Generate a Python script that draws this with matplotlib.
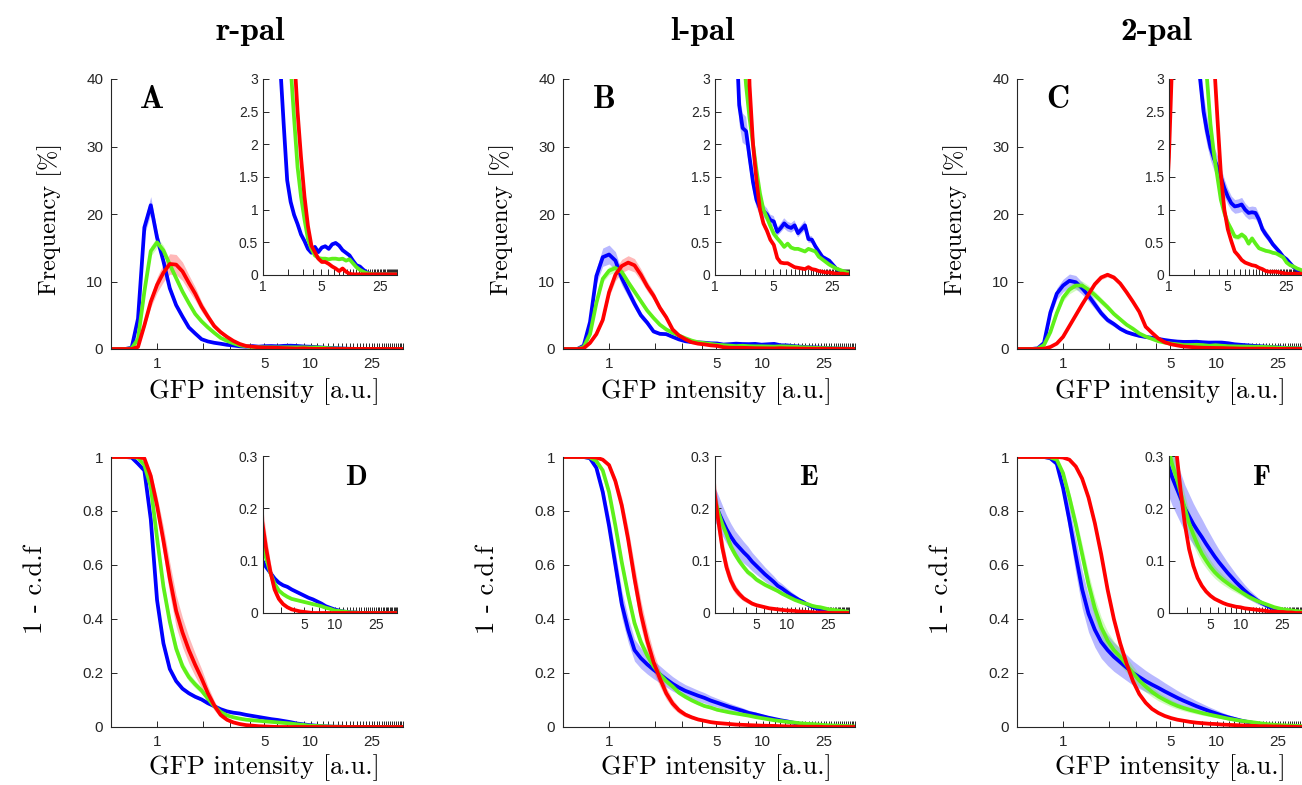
import numpy as np
import matplotlib
matplotlib.use('Agg')
import matplotlib.pyplot as plt

# ---------------- data ----------------
# bin centres (GFP intensity, a.u.), log spaced
X = [0.512, 0.564, 0.620, 0.682, 0.750, 0.825, 0.908, 0.998, 1.098, 1.208,
     1.329, 1.462, 1.608, 1.769, 1.946, 2.140, 2.354, 2.590, 2.849, 3.134,
     3.447, 3.792, 4.171, 4.588, 5.047, 5.552, 6.107, 6.718, 7.390, 8.129,
     8.942, 9.836, 10.82, 11.90, 13.09, 14.40, 15.84, 17.42, 19.17, 21.08,
     23.19, 25.51, 28.06, 30.87, 33.96, 37.35, 41.09]

COLUMNS = ["r-pal", "l-pal", "2-pal"]
LETTERS_TOP = ["A", "B", "C"]
LETTERS_BOT = ["D", "E", "F"]

# Frequency [%]  (blue, green, red)
FREQ_A_BLUE = [0, 0, 0, 0.2, 4.5, 18.0, 21.3, 16.5, 13.0, 9.0, 6.5, 4.8, 3.2, 2.3, 1.45,
               1.12, 0.92, 0.78, 0.62, 0.52, 0.40, 0.34, 0.43, 0.35, 0.42, 0.44, 0.40,
               0.47, 0.49, 0.45, 0.38, 0.34, 0.30, 0.22, 0.15, 0.13, 0.08, 0.04, 0.02,
               0.01, 0.01, 0.01, 0.01, 0.01, 0.01, 0.01, 0.01]
FREQ_A_GREEN = [0, 0, 0, 0.1, 1.5, 8.5, 14.5, 15.8, 14.6, 12.5, 10.5, 8.5, 6.8, 5.2, 4.1,
                3.2, 2.4, 1.65, 1.2, 0.85, 0.55, 0.40, 0.30, 0.26, 0.25, 0.25, 0.24,
                0.25, 0.25, 0.24, 0.25, 0.22, 0.24, 0.18, 0.12, 0.08, 0.05, 0.03, 0.02,
                0.01, 0.01, 0.01, 0.01, 0.01, 0.01, 0.01, 0.01]
FREQ_A_RED = [0, 0, 0, 0, 0.3, 3.5, 7.0, 9.5, 11.3, 12.6, 12.5, 11.5, 9.8, 8.2, 6.3,
              4.8, 3.4, 2.5, 1.8, 1.2, 0.75, 0.45, 0.35, 0.25, 0.20, 0.20, 0.17,
              0.13, 0.10, 0.06, 0.10, 0.05, 0.02, 0.01, 0.01, 0.01, 0.01, 0.01, 0.01,
              0.01, 0.01, 0.01, 0.01, 0.01, 0.01, 0.01, 0.01]

FREQ_B_BLUE = [0, 0, 0, 0.5, 4.0, 10.8, 13.6, 14.0, 13.1, 10.5, 8.6, 6.7, 5.0, 3.9, 2.6,
               2.25, 2.2, 1.8, 1.42, 1.15, 1.02, 0.98, 0.93, 0.84, 0.82, 0.66, 0.72,
               0.79, 0.74, 0.72, 0.76, 0.64, 0.70, 0.76, 0.55, 0.54, 0.44, 0.36, 0.28,
               0.25, 0.22, 0.16, 0.10, 0.07, 0.05, 0.03, 0.02]
FREQ_B_GREEN = [0, 0, 0, 0.3, 2.2, 6.8, 10.4, 11.6, 12.0, 11.4, 9.9, 8.5, 7.1, 5.7, 4.6,
                3.6, 2.9, 2.4, 2.0, 1.6, 1.25, 1.0, 0.88, 0.75, 0.63, 0.56, 0.50,
                0.43, 0.48, 0.42, 0.40, 0.40, 0.38, 0.36, 0.40, 0.38, 0.36, 0.28, 0.24,
                0.20, 0.16, 0.13, 0.10, 0.08, 0.06, 0.04, 0.03]
FREQ_B_RED = [0, 0, 0, 0.1, 0.9, 2.2, 4.3, 8.4, 11.0, 12.3, 12.8, 12.4, 11.0, 9.3, 7.9,
              6.1, 4.7, 2.9, 2.0, 1.45, 1.0, 0.79, 0.68, 0.54, 0.46, 0.26, 0.19,
              0.18, 0.18, 0.15, 0.12, 0.11, 0.10, 0.09, 0.12, 0.09, 0.08, 0.06, 0.05,
              0.04, 0.04, 0.03, 0.02, 0.02, 0.02, 0.01, 0.01]

FREQ_C_BLUE = [0, 0, 0, 0.1, 0.9, 5.4, 8.2, 9.4, 10.1, 9.9, 9.0, 7.9, 6.6, 5.3, 4.3,
               3.7, 3.0, 2.5, 2.2, 1.95, 1.78, 1.66, 1.50, 1.33, 1.20, 1.10, 1.05,
               1.06, 1.08, 1.00, 0.95, 0.96, 0.95, 0.85, 0.70, 0.62, 0.55, 0.47, 0.41,
               0.35, 0.28, 0.24, 0.18, 0.12, 0.08, 0.05, 0.04]
FREQ_C_GREEN = [0, 0, 0, 0.05, 0.6, 2.5, 5.3, 7.6, 8.8, 9.4, 9.4, 8.8, 8.0, 7.1, 6.2,
                5.2, 4.4, 3.6, 3.0, 2.3, 1.85, 1.5, 1.15, 0.95, 0.80, 0.70, 0.59,
                0.58, 0.62, 0.58, 0.48, 0.56, 0.48, 0.41, 0.39, 0.37, 0.36, 0.34, 0.33,
                0.30, 0.27, 0.19, 0.15, 0.13, 0.10, 0.08, 0.06]
FREQ_C_RED = [0, 0, 0, 0, 0.05, 0.3, 0.8, 1.8, 3.4, 5.0, 6.6, 8.1, 9.6, 10.6, 11.0,
              10.6, 9.7, 8.4, 7.0, 5.5, 3.3, 2.4, 1.55, 1.0, 0.70, 0.52, 0.36,
              0.30, 0.23, 0.19, 0.17, 0.15, 0.14, 0.11, 0.09, 0.06, 0.05, 0.05, 0.05,
              0.04, 0.03, 0.02, 0.02, 0.02, 0.02, 0.02, 0.02]

# 1 - c.d.f.
CDF_D_BLUE = [1, 1, 1, 0.998, 0.975, 0.95, 0.77, 0.47, 0.31, 0.215, 0.17, 0.142, 0.125,
              0.112, 0.102, 0.088, 0.077, 0.066, 0.058, 0.053, 0.050, 0.045, 0.041,
              0.037, 0.033, 0.029, 0.026, 0.022, 0.018, 0.013, 0.010, 0.007, 0.005,
              0.003, 0.002, 0.001, 0.001, 0, 0, 0, 0, 0, 0, 0, 0, 0, 0]
CDF_D_GREEN = [1, 1, 1, 1, 0.997, 0.97, 0.89, 0.70, 0.52, 0.39, 0.29, 0.225, 0.185,
               0.158, 0.135, 0.105, 0.077, 0.056, 0.043, 0.036, 0.031, 0.027, 0.025,
               0.023, 0.021, 0.019, 0.017, 0.015, 0.013, 0.010, 0.008, 0.005, 0.004,
               0.003, 0.002, 0.001, 0.001, 0, 0, 0, 0, 0, 0, 0, 0, 0, 0]
CDF_D_RED = [1, 1, 1, 1, 1, 0.995, 0.93, 0.82, 0.69, 0.55, 0.43, 0.35, 0.285, 0.23,
             0.18, 0.125, 0.08, 0.045, 0.027, 0.017, 0.011, 0.007, 0.005, 0.003, 0.002,
             0.001, 0, 0, 0, 0, 0, 0, 0, 0, 0, 0, 0, 0, 0, 0, 0, 0, 0, 0, 0, 0, 0]

CDF_E_BLUE = [1, 1, 1, 1, 0.995, 0.96, 0.87, 0.745, 0.60, 0.455, 0.36, 0.285, 0.255,
              0.232, 0.212, 0.195, 0.177, 0.160, 0.146, 0.134, 0.125, 0.116, 0.108,
              0.098, 0.090, 0.082, 0.074, 0.067, 0.060, 0.052, 0.047, 0.041, 0.035,
              0.030, 0.025, 0.021, 0.016, 0.012, 0.009, 0.006, 0.004, 0.003, 0.002,
              0.001, 0, 0, 0]
CDF_E_GREEN = [1, 1, 1, 1, 0.998, 0.985, 0.95, 0.87, 0.745, 0.61, 0.49, 0.385, 0.315,
               0.265, 0.225, 0.195, 0.170, 0.150, 0.127, 0.112, 0.099, 0.088, 0.078,
               0.072, 0.064, 0.059, 0.054, 0.050, 0.046, 0.042, 0.037, 0.033, 0.029,
               0.025, 0.022, 0.019, 0.017, 0.014, 0.012, 0.011, 0.009, 0.007, 0.006,
               0.005, 0.004, 0.003, 0.002]
CDF_E_RED = [1, 1, 1, 1, 1, 0.998, 0.99, 0.97, 0.91, 0.82, 0.695, 0.55, 0.42, 0.32,
             0.24, 0.18, 0.125, 0.087, 0.062, 0.046, 0.036, 0.028, 0.023, 0.018, 0.015,
             0.013, 0.011, 0.009, 0.008, 0.007, 0.006, 0.005, 0.0045, 0.004, 0.003,
             0.0025, 0.002, 0.0015, 0.001, 0.001, 0.001, 0, 0, 0, 0, 0, 0]

CDF_F_BLUE = [1, 1, 1, 1, 1, 0.995, 0.975, 0.885, 0.765, 0.635, 0.51, 0.42, 0.36, 0.315,
              0.285, 0.26, 0.24, 0.22, 0.20, 0.185, 0.17, 0.157, 0.145, 0.132, 0.120,
              0.108, 0.097, 0.087, 0.077, 0.068, 0.059, 0.051, 0.043, 0.036, 0.030,
              0.024, 0.019, 0.015, 0.011, 0.008, 0.005, 0.003, 0.002, 0.001, 0, 0, 0]
CDF_F_GREEN = [1, 1, 1, 1, 1, 0.998, 0.99, 0.94, 0.85, 0.75, 0.64, 0.53, 0.44, 0.37,
               0.32, 0.285, 0.26, 0.23, 0.20, 0.172, 0.15, 0.13, 0.113, 0.100, 0.088,
               0.078, 0.070, 0.063, 0.057, 0.051, 0.046, 0.041, 0.036, 0.031, 0.027,
               0.023, 0.020, 0.017, 0.014, 0.011, 0.009, 0.007, 0.006, 0.005, 0.004,
               0.003, 0.002]
CDF_F_RED = [1, 1, 1, 1, 1, 1, 1, 0.998, 0.99, 0.965, 0.92, 0.85, 0.755, 0.64, 0.51,
             0.40, 0.31, 0.235, 0.17, 0.122, 0.090, 0.067, 0.052, 0.041, 0.033, 0.027,
             0.023, 0.019, 0.016, 0.014, 0.012, 0.011, 0.009, 0.008, 0.007, 0.006,
             0.005, 0.004, 0.003, 0.003, 0.002, 0.002, 0.001, 0.001, 0, 0, 0]

# relative half-width of the shaded spread band (blue, green, red)
SPREAD_TOP = [(0.06, 0.05, 0.12), (0.10, 0.05, 0.08), (0.10, 0.07, 0.03)]
SPREAD_BOT = [(0.03, 0.05, 0.12), (0.10, 0.04, 0.10), (0.14, 0.08, 0.02)]

FREQS = [(FREQ_A_BLUE, FREQ_A_GREEN, FREQ_A_RED),
         (FREQ_B_BLUE, FREQ_B_GREEN, FREQ_B_RED),
         (FREQ_C_BLUE, FREQ_C_GREEN, FREQ_C_RED)]
CDFS = [(CDF_D_BLUE, CDF_D_GREEN, CDF_D_RED),
        (CDF_E_BLUE, CDF_E_GREEN, CDF_E_RED),
        (CDF_F_BLUE, CDF_F_GREEN, CDF_F_RED)]

MAIN_XTICK_LABELS = [1, 5, 10, 25]
INSET_TOP_XTICK_LABELS = [1, 5, 25]
INSET_BOT_XTICK_LABELS = [5, 10, 25]

# ---------------- style ----------------
COLORS = ['#0000ff', '#5ef01a', '#ff0000']
AXC = '#262626'
TICKFONT = 'Liberation Sans'
W, H = 1302, 785
LW = 2.7

fig = plt.figure(figsize=(W / 100, H / 100), dpi=100)


def frac(x0, y0, x1, y1):
    return [x0 / W, 1 - y1 / H, (x1 - x0) / W, (y1 - y0) / H]


def style_axes(ax, xlim, labelled, tick_start, ylim, yticks, fs, pad):
    ax.set_xscale('log')
    ax.set_xlim(*xlim)
    ax.set_ylim(*ylim)
    ticks = list(range(tick_start, 41))
    ax.xaxis.set_major_locator(matplotlib.ticker.FixedLocator(ticks))
    ax.xaxis.set_major_formatter(matplotlib.ticker.FixedFormatter(
        [str(t) if t in labelled else '' for t in ticks]))
    ax.xaxis.set_minor_locator(matplotlib.ticker.NullLocator())
    ax.set_yticks(yticks)
    ax.set_yticklabels([('%g' % v) for v in yticks])
    for s in ['top', 'right']:
        ax.spines[s].set_visible(False)
    for s in ['left', 'bottom']:
        ax.spines[s].set_color(AXC)
        ax.spines[s].set_linewidth(0.8)
    ax.tick_params(direction='in', length=4, width=0.7, color=AXC,
                   labelcolor=AXC, labelsize=fs, pad=pad)
    for lab in ax.get_xticklabels() + ax.get_yticklabels():
        lab.set_fontfamily(TICKFONT)
    ax.patch.set_alpha(0)


def draw(ax, series, spreads, cdf):
    x = np.array(X)
    for vals, col, rel in zip(series, COLORS, spreads):
        m = np.array(vals, dtype=float)
        if cdf:
            hw = rel * m * (1 - m) * 2
        else:
            hw = rel * m
        ax.fill_between(x, m - hw, m + hw, color=col, alpha=0.28, lw=0)
        ax.plot(x, m, color=col, lw=LW, solid_joinstyle='round')


main_lefts = [111, 563, 1017]
AXW = 292
for j in range(3):
    L = main_lefts[j]
    # top row main
    ax = fig.add_axes(frac(L, 79, L + AXW, 349))
    draw(ax, FREQS[j], SPREAD_TOP[j], False)
    style_axes(ax, (0.5, 40), MAIN_XTICK_LABELS, 1, (0, 40), [0, 10, 20, 30, 40], 11, 5.5)
    # top inset
    ai = fig.add_axes(frac(L + 152, 79, L + 152 + 134, 275))
    draw(ai, FREQS[j], SPREAD_TOP[j], False)
    style_axes(ai, (1, 40), INSET_TOP_XTICK_LABELS, 1, (0, 3),
               [0, 0.5, 1, 1.5, 2, 2.5, 3], 10, 3.5)
    # bottom row main
    bx = fig.add_axes(frac(L, 457, L + AXW, 727))
    draw(bx, CDFS[j], SPREAD_BOT[j], True)
    style_axes(bx, (0.5, 40), MAIN_XTICK_LABELS, 1, (0, 1),
               [0, 0.2, 0.4, 0.6, 0.8, 1], 11, 5.5)
    # bottom inset
    bi = fig.add_axes(frac(L + 152, 456, L + 152 + 134, 613))
    draw(bi, CDFS[j], SPREAD_BOT[j], True)
    style_axes(bi, (2, 40), INSET_BOT_XTICK_LABELS, 2, (0, 0.3),
               [0, 0.1, 0.2, 0.3], 10, 3.5)

    # texts
    fig.text((L + 139) / W, 1 - 40 / H, COLUMNS[j], family='cmb10', fontsize=24,
             ha='center', va='baseline', color='k')
    fig.text((L + 41) / W, 1 - 108 / H, LETTERS_TOP[j], family='cmb10', fontsize=23,
             ha='center', va='baseline', color='k')
    fig.text((L + 245) / W, 1 - 485 / H, LETTERS_BOT[j], family='cmb10', fontsize=20.5,
             ha='center', va='baseline', color='k')
    fig.text((L + 153) / W, 1 - 392 / H, 'GFP intensity [a.u.]', family='cmr10',
             fontsize=19, ha='center', va='center', color='k')
    fig.text((L + 153) / W, 1 - 768 / H, 'GFP intensity [a.u.]', family='cmr10',
             fontsize=19, ha='center', va='center', color='k')
    fig.text((L - 61) / W, 1 - 219 / H, 'Frequency [%]', family='cmr10',
             fontsize=17.5, ha='center', va='center', rotation=90, color='k')
    fig.text((L - 76) / W, 1 - 590 / H, '1 - c.d.f', family='cmr10',
             fontsize=19, ha='center', va='center', rotation=90, color='k')

fig.savefig('out.png', dpi=100)
